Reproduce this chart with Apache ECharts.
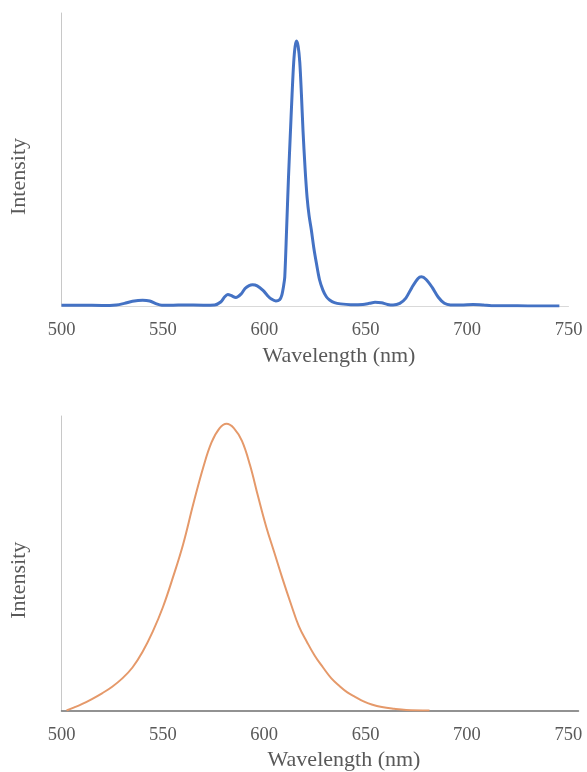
<!DOCTYPE html>
<html>
<head>
<meta charset="utf-8">
<script src="https://cdn.jsdelivr.net/npm/echarts@6/dist/echarts.min.js"></script>
<style>
  html, body { margin: 0; padding: 0; background: #fff; }
  #chart { width: 587px; height: 772px; }
</style>
</head>
<body>
<div id="chart"></div>
<script>
// emission spectrum (top), wavelength in nm / relative intensity
const topSpectrum = [
  [500, 0.003], [510, 0.003], [520, 0.002], [527, 0.004], [531, 0.01], [535, 0.018],
  [540, 0.022], [543.5, 0.019], [546.5, 0.009], [549.5, 0.003], [555, 0.003], [560, 0.004],
  [570, 0.003], [575.5, 0.004], [578.5, 0.015], [580.5, 0.035], [582, 0.043], [583.5, 0.04],
  [586, 0.032], [588.5, 0.045], [590.5, 0.066], [592.5, 0.077], [594.2, 0.08], [596.5, 0.076],
  [599.5, 0.058], [601.5, 0.04], [603.5, 0.026], [605.7, 0.019], [607.6, 0.024], [608.6, 0.04],
  [609.6, 0.08], [610.1, 0.11], [611, 0.29], [611.9, 0.48], [612.9, 0.66], [613.7, 0.8],
  [614.5, 0.92], [615.2, 0.98], [615.9, 1.0], [616.7, 0.98], [617.5, 0.92], [618.3, 0.8],
  [619.1, 0.66], [620.1, 0.52], [621.1, 0.41], [622.1, 0.34], [623.2, 0.287], [624.4, 0.22],
  [625.7, 0.161], [627.2, 0.1], [628.9, 0.06], [630.6, 0.035], [632.2, 0.023], [634.6, 0.013],
  [637.6, 0.008], [642.6, 0.005], [648.6, 0.006], [651.8, 0.01], [654.6, 0.014], [657.8, 0.012],
  [660.8, 0.006], [663.5, 0.004], [666.8, 0.01], [669.8, 0.03], [672.8, 0.07], [675.8, 0.104],
  [677.5, 0.11], [679.8, 0.1], [682.8, 0.07], [685.8, 0.033], [688.8, 0.01], [691.8, 0.004],
  [697, 0.004], [703, 0.006], [708, 0.004], [712, 0.001], [720, 0.001], [730, 0], [745.5, 0]
]

// broad band (bottom)
const bottomSpectrum = [
  [502.5, 0], [506, 0.01], [510, 0.022], [515, 0.04], [520, 0.06], [525, 0.083],
  [530, 0.112], [535, 0.15], [540, 0.205], [545, 0.275], [550, 0.36], [555, 0.465],
  [560, 0.58], [565, 0.72], [570, 0.85], [574, 0.935], [578, 0.985], [581.4, 1.0],
  [585, 0.985], [589, 0.94], [593, 0.855], [597, 0.745], [601, 0.64], [605, 0.55],
  [609, 0.46], [613, 0.375], [617, 0.295], [621, 0.24], [625, 0.19], [629, 0.15],
  [633, 0.113], [637, 0.086], [641, 0.063], [645, 0.047], [649, 0.032], [653, 0.021],
  [658, 0.012], [664, 0.006], [670, 0.002], [681.5, 0]
]

const xTicks = [500, 550, 600, 650, 700, 750]

const font = 'Liberation Serif'
const textColor = '#595959'

const myChart = echarts.init(document.getElementById('chart'))

const makeX = (gridIndex, max, lineColor, lineWidth) => ({
  type: 'value',
  gridIndex: gridIndex,
  min: xTicks[0],
  max: max,
  interval: 50,
  name: 'Wavelength (nm)',
  nameLocation: 'middle',
  nameGap: 39,
  nameTextStyle: { fontFamily: font, fontSize: 22, color: textColor, padding: [0, 0, 0, 48] },
  axisLine: { show: true, lineStyle: { color: lineColor, width: lineWidth } },
  axisTick: { show: false },
  splitLine: { show: false },
  axisLabel: {
    margin: 15,
    fontFamily: font,
    fontSize: 18.5,
    color: textColor,
    formatter: (v) => (xTicks.indexOf(v) >= 0 ? String(v) : '')
  }
})

const makeY = (gridIndex, max) => ({
  type: 'value',
  gridIndex: gridIndex,
  min: 0,
  max: max,
  name: 'Intensity',
  nameLocation: 'middle',
  nameRotate: 90,
  nameGap: 31,
  nameTextStyle: { fontFamily: font, fontSize: 22, color: textColor, padding: [0, 34, 0, 0] },
  axisLine: { show: true, lineStyle: { color: '#c8c8c8', width: 1 } },
  axisTick: { show: false },
  axisLabel: { show: false },
  splitLine: { show: false }
})

const option = {
  animation: false,
  grid: [
    { left: 61.5, top: 13, width: 507, bottom: 466, outerBoundsMode: 'none' },
    { left: 61.5, top: 416, width: 517, bottom: 61.5, outerBoundsMode: 'none' }
  ],
  xAxis: [
    makeX(0, 750, '#d9d9d9', 1),
    makeX(1, 755, '#6f6f6f', 1.5)
  ],
  yAxis: [
    makeY(0, 1.106),
    makeY(1, 1.027)
  ],
  series: [
    {
      type: 'line',
      xAxisIndex: 0,
      yAxisIndex: 0,
      data: topSpectrum,
      smooth: 0.3,
      showSymbol: false,
      lineStyle: { color: '#4472C4', width: 3 }
    },
    {
      type: 'line',
      xAxisIndex: 1,
      yAxisIndex: 1,
      data: bottomSpectrum,
      smooth: 0.4,
      showSymbol: false,
      lineStyle: { color: '#E5996A', width: 2 }
    }
  ]
}

option && myChart.setOption(option)
</script>
</body>
</html>
